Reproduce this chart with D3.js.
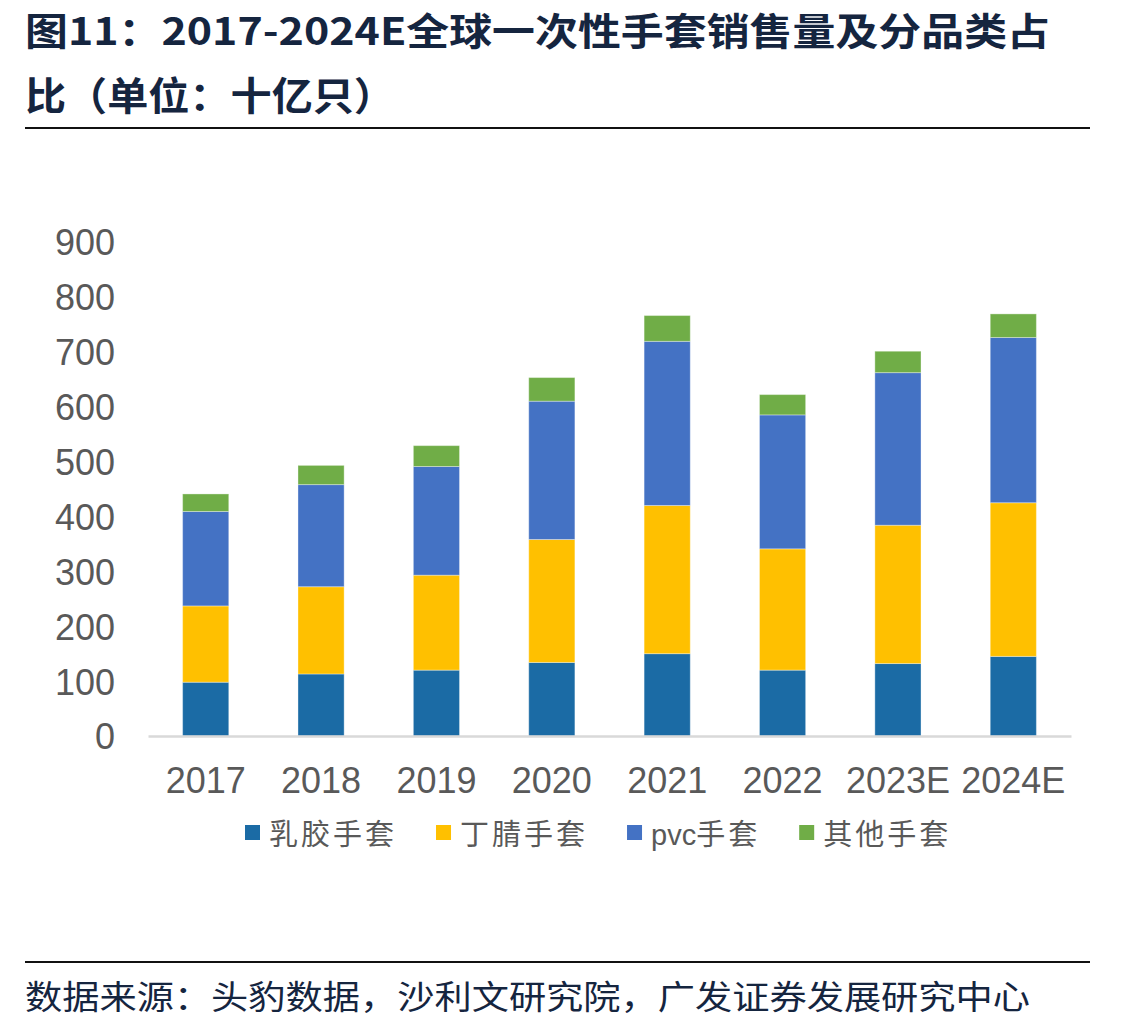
<!DOCTYPE html>
<html>
<head>
<meta charset="utf-8">
<script src="https://cdn.jsdelivr.net/npm/d3@7"></script>
<style>
  body { margin: 0; background: #fff; }
  svg { display: block; }
</style>
</head>
<body>
<div id="chart"></div>
<script>
// Data (十亿只)
var years = ["2017", "2018", "2019", "2020", "2021", "2022", "2023E", "2024E"];
var latex = [98, 113, 120, 134, 150, 120, 132, 145];
var nitrile = [139, 159, 173, 224, 270, 221, 252, 280];
var pvc = [172, 186, 198, 252, 299, 244, 278, 301];
var other = [32, 35, 38, 43, 47, 37, 39, 43];
var seriesNames = ["乳胶手套", "丁腈手套", "pvc手套", "其他手套"];
var seriesColors = ["#1b6ba5", "#ffc000", "#4472c4", "#70ad47"];
var yTicks = [0, 100, 200, 300, 400, 500, 600, 700, 800, 900];

var W = 1143, H = 1031;
var svg = d3.select("#chart").append("svg")
  .attr("width", W)
  .attr("height", H);

var titleColor = "#15253f";
var cjk = "'Noto Sans CJK SC', 'Noto Sans', sans-serif";
var latin = "'Liberation Sans', Arial, sans-serif";

// Title
svg.append("text")
  .attr("x", 25).attr("y", 45)
  .attr("textLength", 1025).attr("lengthAdjust", "spacingAndGlyphs")
  .style("font-family", cjk).style("font-weight", "bold")
  .style("font-size", "38px").style("fill", titleColor)
  .text("图11：2017-2024E全球一次性手套销售量及分品类占");
svg.append("text")
  .attr("x", 25).attr("y", 110)
  .attr("textLength", 370).attr("lengthAdjust", "spacingAndGlyphs")
  .style("font-family", cjk).style("font-weight", "bold")
  .style("font-size", "39px").style("fill", titleColor)
  .text("比（单位：十亿只）");

// Rules
svg.append("line").attr("x1", 25).attr("x2", 1090).attr("y1", 128).attr("y2", 128)
  .attr("stroke", "#111").attr("stroke-width", 2);
svg.append("line").attr("x1", 25).attr("x2", 1090).attr("y1", 962).attr("y2", 962)
  .attr("stroke", "#111").attr("stroke-width", 2);

// Source
svg.append("text")
  .attr("x", 25).attr("y", 1009)
  .attr("textLength", 1005).attr("lengthAdjust", "spacingAndGlyphs")
  .style("font-family", cjk)
  .style("font-size", "33px").style("fill", titleColor)
  .text("数据来源：头豹数据，沙利文研究院，广发证券发展研究中心");

// Scales
var x = d3.scaleBand()
  .domain(years)
  .range([148, 1071])
  .paddingInner(0.6)
  .paddingOuter(0.3);

var y = d3.scaleLinear()
  .domain([0, 900])
  .range([736, 242]);

// Stack data
var rows = years.map(function(yr, i) {
  return { year: yr, s0: latex[i], s1: nitrile[i], s2: pvc[i], s3: other[i] };
});
var stack = d3.stack().keys(["s0", "s1", "s2", "s3"]);
var stacked = stack(rows);

svg.append("g").selectAll("g")
  .data(stacked)
  .enter().append("g")
    .attr("fill", function(d, i) { return seriesColors[i]; })
  .selectAll("rect")
  .data(function(d) { return d; })
  .enter().append("rect")
    .attr("x", function(d) { return x(d.data.year); })
    .attr("width", x.bandwidth())
    .attr("y", function(d) { return y(d[1]); })
    .attr("height", function(d) { return y(d[0]) - y(d[1]); })
    .attr("stroke", "rgba(255,255,255,0.35)")
    .attr("stroke-width", 1);

// X axis
var xAxis = svg.append("g")
  .attr("transform", "translate(0,736)")
  .call(d3.axisBottom(x).tickSize(0).tickPadding(0));
xAxis.select(".domain").attr("stroke", "#d9d9d9").attr("stroke-width", 2.5);
xAxis.selectAll("text")
  .attr("y", 0).attr("dy", "57px")
  .style("font-family", latin).style("font-size", "36px").style("fill", "#595959");

// Y axis
var yAxis = svg.append("g")
  .attr("transform", "translate(115,0)")
  .call(d3.axisLeft(y).tickValues(yTicks).tickSize(0).tickPadding(0));
yAxis.select(".domain").remove();
yAxis.selectAll("text")
  .attr("dy", "0.36em")
  .style("font-family", latin).style("font-size", "36px").style("fill", "#595959");

// Legend
var legend = svg.append("g").attr("transform", "translate(245,825)");
var lx = 0;
seriesNames.forEach(function(name, i) {
  var g = legend.append("g").attr("transform", "translate(" + lx + ",0)");
  g.append("rect").attr("width", 15).attr("height", 15).attr("fill", seriesColors[i]);
  var t = g.append("text")
    .attr("x", 24).attr("y", 20)
    .style("font-family", cjk).style("font-size", "29px")
    .style("fill", "#595959");
  // latin part without extra spacing, CJK part spaced out
  name.match(/[A-Za-z]+|[^A-Za-z]+/g).forEach(function(part) {
    var latinPart = /[A-Za-z]/.test(part);
    t.append("tspan")
      .style("letter-spacing", latinPart ? "0px" : "3px")
      .style("font-family", latinPart ? latin : cjk)
      .text(part);
  });
  lx += 24 + t.node().getComputedTextLength() + 39;
});
</script>
</body>
</html>
